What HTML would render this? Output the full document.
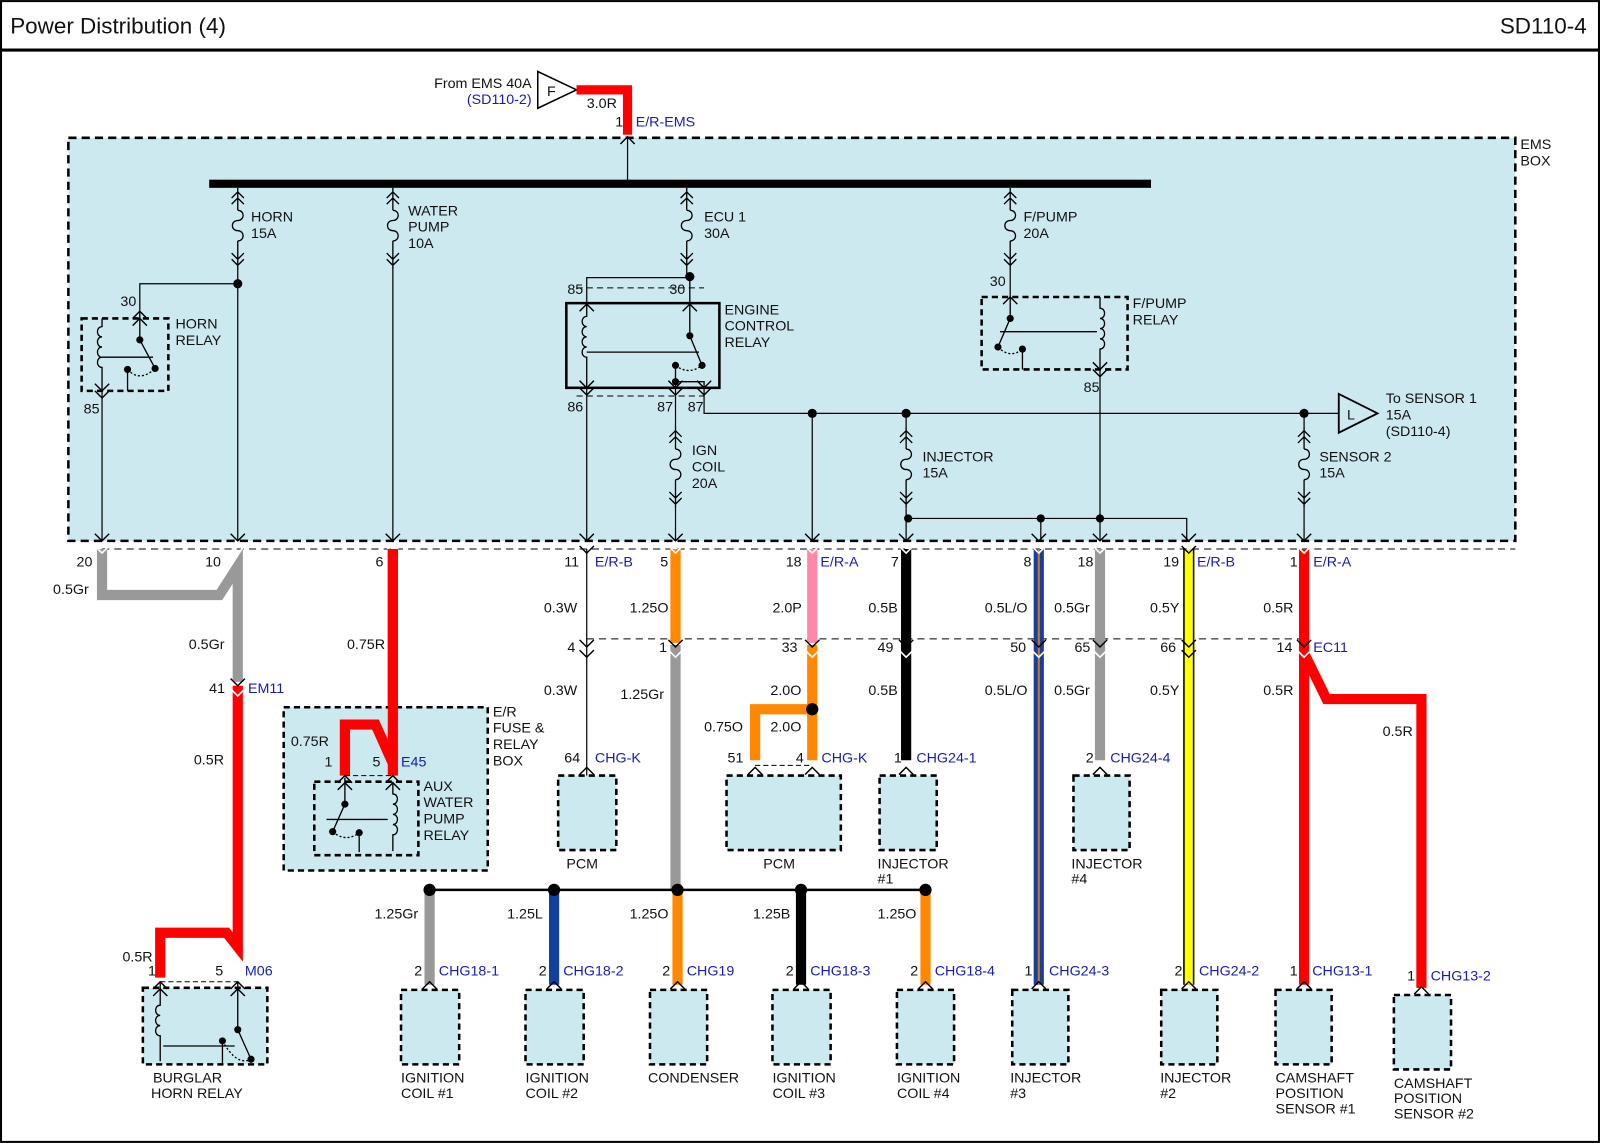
<!DOCTYPE html>
<html><head><meta charset="utf-8"><style>
html,body{margin:0;padding:0;background:#fff}
svg{display:block}
text{font-family:"Liberation Sans",Arial,sans-serif;font-size:14px;fill:#111}
.b{fill:#1a1ab8}
.t{font-size:22px}
</style></head><body>
<svg width="1600" height="1143" viewBox="0 0 1568 1120" xmlns="http://www.w3.org/2000/svg">
<defs>
<g id="fuse" fill="none" stroke="#000" stroke-width="1.3">
<path d="M0,0V22M-6,10L0,4L6,10M-6,16L0,10L6,16M0,22c7,0 7,10 0,10c-7,0 -7,10 0,10c7,0 7,10 0,10M0,52V80M-6,64L0,70L6,64M-6,70L0,76L6,70"/>
</g>
<g id="cd" fill="none" stroke="#000" stroke-width="1.4"><path d="M-7,-7L0,0L7,-7"/></g>
<g id="cu" fill="none" stroke="#000" stroke-width="1.4"><path d="M-7,7L0,0L7,7"/></g>
<g id="cdw" fill="none" stroke="#fff" stroke-width="1.6"><path d="M-7,-7L0,0L7,-7"/></g>
<g id="cuw" fill="none" stroke="#fff" stroke-width="1.6"><path d="M-7,7L0,0L7,7"/></g>
</defs>
<rect x="1" y="1" width="1566" height="1118" fill="#fff" stroke="#000" stroke-width="2"/>
<line x1="0" y1="49" x2="1568" y2="49" stroke="#000" stroke-width="3"/>
<text x="10" y="33" class="t">Power Distribution (4)</text>
<text x="1555" y="33" class="t" text-anchor="end">SD110-4</text>

<!-- EMS box -->
<rect x="67" y="135" width="1418" height="395" fill="#cde9f0" stroke="#000" stroke-width="2.5" stroke-dasharray="8,5"/>
<text x="1490" y="146">EMS</text><text x="1490" y="162">BOX</text>

<!-- From EMS -->
<path d="M527,70L565,88L527,106Z" fill="#fff" stroke="#000" stroke-width="1.5"/>
<text x="536" y="94">F</text>
<text x="521" y="86" text-anchor="end">From EMS 40A</text>
<text x="521" y="102" text-anchor="end" class="b">(SD110-2)</text>
<path d="M565,88H615V132" fill="none" stroke="#f00" stroke-width="9"/>
<text x="575" y="106">3.0R</text>
<text x="603" y="124">1</text><text x="623" y="124" class="b">E/R-EMS</text>
<use href="#cu" x="615" y="134"/>
<line x1="615" y1="134" x2="615" y2="180" stroke="#000" stroke-width="1.2"/>
<rect x="205" y="176" width="923" height="8" fill="#000"/>

<!-- fuses -->
<use href="#fuse" x="233" y="184"/><text x="246" y="217">HORN</text><text x="246" y="233">15A</text>
<use href="#fuse" x="385" y="184"/><text x="400" y="211">WATER</text><text x="400" y="227">PUMP</text><text x="400" y="243">10A</text>
<use href="#fuse" x="673" y="184"/><text x="690" y="217">ECU 1</text><text x="690" y="233">30A</text>
<use href="#fuse" x="990" y="184"/><text x="1003" y="217">F/PUMP</text><text x="1003" y="233">20A</text>
<use href="#fuse" x="662" y="418"/><text x="678" y="446">IGN</text><text x="678" y="462">COIL</text><text x="678" y="478">20A</text>
<use href="#fuse" x="888" y="418"/><text x="904" y="452">INJECTOR</text><text x="904" y="468">15A</text>
<use href="#fuse" x="1278" y="418"/><text x="1293" y="452">SENSOR 2</text><text x="1293" y="468">15A</text>

<g fill="none" stroke="#000" stroke-width="1.2">
<!-- horn -->
<path d="M233,264V530M233,278H137V304M100,383V530"/>
<path d="M385,264V530"/>
<!-- ECU -->
<path d="M673,264V272H575V297M575,380V530M662,380V418M662,498V530M690,380V405H1312M796,405V530M888,405V418M888,498V508H1163V530M888,508V530M1020,508V530M1278,405V418M1278,498V530"/>
<!-- fpump -->
<path d="M990,264V290M1078,362V530"/>
</g>
<g fill="#000">
<circle cx="233" cy="278" r="4.5"/><circle cx="676" cy="271" r="4.5"/>
<circle cx="796" cy="405" r="4.5"/><circle cx="888" cy="405" r="4.5"/><circle cx="1278" cy="405" r="4.5"/>
<circle cx="890" cy="508" r="4"/><circle cx="1020" cy="508" r="4"/><circle cx="1078" cy="508" r="4"/>
</g>
<!-- sensor1 triangle -->
<path d="M1312,386L1350,405L1312,424Z" fill="#cde9f0" stroke="#000" stroke-width="1.8"/>
<text x="1320" y="411">L</text>
<text x="1358" y="395">To SENSOR 1</text><text x="1358" y="411">15A</text><text x="1358" y="427">(SD110-4)</text>

<!-- Horn relay -->
<rect x="80" y="312" width="85" height="71" fill="none" stroke="#000" stroke-width="2.5" stroke-dasharray="6,4"/>
<g fill="none" stroke="#000" stroke-width="1.3">
<path d="M100,312V320c-6,0 -6,10 0,10c-6,0 -6,10 0,10c-6,0 -6,10 0,10c-6,0 -6,10 0,10V383"/>
<path d="M137,304V333L152,361M100,350H150M125,383V362" />
<path d="M125,362Q137,375 152,361" stroke-dasharray="2,2"/>
</g>
<use href="#cu" x="137" y="305"/><use href="#cu" x="137" y="312"/><use href="#cd" x="100" y="383"/><use href="#cd" x="100" y="390"/>
<circle cx="137" cy="333" r="3.5"/><circle cx="152" cy="361" r="3.5"/><circle cx="125" cy="362" r="3.5"/>
<text x="118" y="300">30</text><text x="82" y="405">85</text>
<text x="172" y="322">HORN</text><text x="172" y="338">RELAY</text>

<!-- Engine control relay -->
<path d="M565,282H690M565,388H690" stroke="#000" stroke-dasharray="6,4"/>
<rect x="555" y="297" width="150" height="83" fill="none" stroke="#000" stroke-width="2.5"/>
<g fill="none" stroke="#000" stroke-width="1.3">
<path d="M575,297V310c-6,0 -6,10 0,10c-6,0 -6,10 0,10c-6,0 -6,10 0,10c-6,0 -6,10 0,10V380"/>
<path d="M676,297V329L688,358M575,345H685M676,297V272"/>
<path d="M662,358V380M662,374H690V380"/>
<path d="M662,358Q675,368 688,358" stroke-dasharray="2,2"/>
</g>
<circle cx="676" cy="329" r="3.5"/><circle cx="688" cy="358" r="3.5"/><circle cx="662" cy="358" r="3.5"/><circle cx="662" cy="374" r="3.5"/>
<use href="#cu" x="575" y="298"/><use href="#cu" x="676" y="298"/>
<use href="#cd" x="575" y="380"/><use href="#cd" x="575" y="387"/><use href="#cd" x="662" y="380"/><use href="#cd" x="662" y="387"/><use href="#cd" x="690" y="380"/><use href="#cd" x="690" y="387"/>
<text x="556" y="288">85</text><text x="656" y="288">30</text>
<text x="556" y="403">86</text><text x="644" y="403">87</text><text x="674" y="403">87</text>
<text x="710" y="308">ENGINE</text><text x="710" y="324">CONTROL</text><text x="710" y="340">RELAY</text>

<!-- F/PUMP relay -->
<rect x="962" y="291" width="143" height="71" fill="none" stroke="#000" stroke-width="2.5" stroke-dasharray="6,4"/>
<g fill="none" stroke="#000" stroke-width="1.3">
<path d="M1078,291V302c6,0 6,10 0,10c6,0 6,10 0,10c6,0 6,10 0,10c6,0 6,10 0,10V362"/>
<path d="M990,290V312L978,340M980,325H1075M1002,362V342"/>
<path d="M978,340Q990,352 1002,342" stroke-dasharray="2,2"/>
</g>
<circle cx="990" cy="312" r="3.5"/><circle cx="978" cy="340" r="3.5"/><circle cx="1002" cy="342" r="3.5"/>
<use href="#cu" x="990" y="291"/><use href="#cd" x="1078" y="362"/><use href="#cd" x="1078" y="369"/>
<text x="970" y="280">30</text><text x="1062" y="384">85</text>
<text x="1110" y="302">F/PUMP</text><text x="1110" y="318">RELAY</text>

<!-- connector row lines -->
<line x1="100" y1="538" x2="1485" y2="538" stroke="#000" stroke-dasharray="7,5"/>
<line x1="575" y1="626" x2="1280" y2="626" stroke="#000" stroke-dasharray="7,5"/>

<!-- wires -->
<g fill="none" stroke-width="10" stroke-linejoin="miter">
<path d="M100,538V583H215L233,555V668" stroke="#999"/>
<path d="M233,672V928L222,914H157V958" stroke="#f00"/>
<path d="M385,538V760M385,748L368,710H338V760" stroke="#f00"/>
<path d="M662,538V630" stroke="#f80"/>
<path d="M662,632V872" stroke="#999"/>
<path d="M796,538V630" stroke="#f8a"/>
<path d="M796,632V745M796,695H740V745" stroke="#f80"/>
<path d="M888,538V745" stroke="#000"/>
<path d="M1078,538V745" stroke="#999"/>
<path d="M1278,538V965M1278,640L1300,685H1393V968" stroke="#f00"/>
<path d="M421,872V965" stroke="#999"/>
<path d="M543,872V965" stroke="#1040a0"/>
<path d="M664,872V965" stroke="#f80"/>
<path d="M785,872V965" stroke="#000"/>
<path d="M907,872V965" stroke="#f80"/>
</g>
<path d="M1018,538V965" stroke="#1a3f99" stroke-width="10"/>
<path d="M1018,538V965" stroke="#c87a30" stroke-width="2"/>
<path d="M1165,538V965" stroke="#000" stroke-width="11"/>
<path d="M1165,538V965" stroke="#ff0" stroke-width="8"/>
<path d="M575,538V760" stroke="#000" stroke-width="1.2"/>
<path d="M421,872H907" stroke="#000" stroke-width="2.5"/>
<g fill="#000"><circle cx="421" cy="872" r="6"/><circle cx="543" cy="872" r="6"/><circle cx="664" cy="872" r="6"/><circle cx="785" cy="872" r="6"/><circle cx="907" cy="872" r="6"/><circle cx="796" cy="695" r="6"/></g>

<!-- connector chevrons -->
<g>
<use href="#cd" x="100" y="530"/><use href="#cdw" x="100" y="542"/>
<use href="#cd" x="233" y="530"/><use href="#cdw" x="233" y="542"/>
<use href="#cd" x="385" y="530"/><use href="#cdw" x="385" y="542"/>
<use href="#cd" x="575" y="530"/><use href="#cd" x="575" y="542"/>
<use href="#cd" x="662" y="530"/><use href="#cdw" x="662" y="542"/>
<use href="#cd" x="796" y="530"/><use href="#cdw" x="796" y="542"/>
<use href="#cd" x="888" y="530"/><use href="#cdw" x="888" y="542"/>
<use href="#cd" x="1018" y="530"/><use href="#cdw" x="1018" y="542"/>
<use href="#cd" x="1078" y="530"/><use href="#cdw" x="1078" y="542"/>
<use href="#cd" x="1165" y="530"/><use href="#cd" x="1165" y="542"/>
<use href="#cd" x="1278" y="530"/><use href="#cdw" x="1278" y="542"/>
<use href="#cd" x="575" y="634"/><use href="#cd" x="575" y="644"/>
<use href="#cd" x="662" y="634"/><use href="#cdw" x="662" y="644"/>
<use href="#cd" x="796" y="634"/><use href="#cdw" x="796" y="644"/>
<use href="#cd" x="888" y="634"/><use href="#cdw" x="888" y="644"/>
<use href="#cd" x="1018" y="634"/><use href="#cdw" x="1018" y="644"/>
<use href="#cd" x="1078" y="634"/><use href="#cdw" x="1078" y="644"/>
<use href="#cd" x="1165" y="634"/><use href="#cd" x="1165" y="644"/>
<use href="#cd" x="1278" y="634"/><use href="#cdw" x="1278" y="644"/>
<use href="#cd" x="233" y="672"/><use href="#cdw" x="233" y="682"/>
</g>

<!-- connector labels row 1 -->
<text x="75" y="555">20</text><text x="201" y="555">10</text><text x="368" y="555">6</text>
<text x="553" y="555">11</text><text x="583" y="555" class="b">E/R-B</text>
<text x="647" y="555">5</text>
<text x="770" y="555">18</text><text x="804" y="555" class="b">E/R-A</text>
<text x="873" y="555">7</text><text x="1003" y="555">8</text><text x="1056" y="555">18</text>
<text x="1140" y="555">19</text><text x="1173" y="555" class="b">E/R-B</text>
<text x="1264" y="555">1</text><text x="1287" y="555" class="b">E/R-A</text>
<text x="52" y="582">0.5Gr</text>
<text x="533" y="600">0.3W</text><text x="617" y="600">1.25O</text><text x="757" y="600">2.0P</text>
<text x="851" y="600">0.5B</text><text x="965" y="600">0.5L/O</text><text x="1033" y="600">0.5Gr</text>
<text x="1127" y="600">0.5Y</text><text x="1238" y="600">0.5R</text>
<text x="185" y="636">0.5Gr</text><text x="340" y="636">0.75R</text>
<text x="556" y="639">4</text><text x="646" y="639">1</text><text x="766" y="639">33</text>
<text x="860" y="639">49</text><text x="990" y="639">50</text><text x="1053" y="639">65</text>
<text x="1137" y="639">66</text><text x="1251" y="639">14</text><text x="1287" y="639" class="b">EC11</text>
<text x="533" y="681">0.3W</text><text x="608" y="685">1.25Gr</text><text x="755" y="681">2.0O</text>
<text x="851" y="681">0.5B</text><text x="965" y="681">0.5L/O</text><text x="1033" y="681">0.5Gr</text>
<text x="1127" y="681">0.5Y</text><text x="1238" y="681">0.5R</text>
<text x="205" y="679">41</text><text x="243" y="679" class="b">EM11</text>
<text x="690" y="717">0.75O</text><text x="755" y="717">2.0O</text>
<text x="190" y="749">0.5R</text><text x="1355" y="721">0.5R</text>

<!-- E/R fuse & relay box -->
<rect x="278" y="693" width="200" height="160" fill="#cde9f0" stroke="#000" stroke-width="2.5" stroke-dasharray="6,4"/>
<path d="M385,538V760M385,748L368,710H338V760" stroke="#f00" stroke-width="10" fill="none"/>
<text x="483" y="702">E/R</text><text x="483" y="718">FUSE &amp;</text><text x="483" y="734">RELAY</text><text x="483" y="750">BOX</text>
<text x="285" y="731">0.75R</text><text x="318" y="751">1</text><text x="365" y="751">5</text><text x="393" y="751" class="b">E45</text>
<line x1="338" y1="760" x2="385" y2="760" stroke="#000" stroke-dasharray="5,3"/>
<rect x="308" y="766" width="102" height="72" fill="none" stroke="#000" stroke-width="2.5" stroke-dasharray="6,4"/>
<g fill="none" stroke="#000" stroke-width="1.3">
<path d="M385,766V778c6,0 6,10 0,10c6,0 6,10 0,10c6,0 6,10 0,10c6,0 6,10 0,10V834"/>
<path d="M338,762V788L326,815M320,803H380M352,835V816"/>
<path d="M326,815Q339,826 352,816" stroke-dasharray="2,2"/>
</g>
<circle cx="338" cy="788" r="3.5"/><circle cx="326" cy="815" r="3.5"/><circle cx="352" cy="816" r="3.5"/>
<use href="#cu" x="338" y="760"/><use href="#cu" x="385" y="760"/><use href="#cu" x="338" y="767"/><use href="#cu" x="385" y="767"/>
<text x="415" y="775">AUX</text><text x="415" y="791">WATER</text><text x="415" y="807">PUMP</text><text x="415" y="823">RELAY</text>

<!-- PCMs and injectors (upper) -->
<g fill="#cde9f0" stroke="#000" stroke-width="2.5" stroke-dasharray="6,4">
<rect x="547" y="760" width="57" height="73"/>
<rect x="712" y="760" width="112" height="73"/>
<rect x="862" y="760" width="56" height="73"/>
<rect x="1052" y="760" width="55" height="73"/>
</g>
<line x1="740" y1="750" x2="796" y2="750" stroke="#000" stroke-dasharray="5,3"/>
<use href="#cu" x="575" y="752"/><use href="#cu" x="740" y="752"/><use href="#cu" x="796" y="752"/><use href="#cu" x="888" y="752"/><use href="#cu" x="1078" y="752"/>
<text x="553" y="747">64</text><text x="583" y="747" class="b">CHG-K</text>
<text x="713" y="747">51</text><text x="780" y="747">4</text><text x="805" y="747" class="b">CHG-K</text>
<text x="876" y="747">1</text><text x="898" y="747" class="b">CHG24-1</text>
<text x="1064" y="747">2</text><text x="1088" y="747" class="b">CHG24-4</text>
<text x="555" y="851">PCM</text><text x="748" y="851">PCM</text>
<text x="860" y="851">INJECTOR</text><text x="860" y="866">#1</text>
<text x="1050" y="851">INJECTOR</text><text x="1050" y="866">#4</text>

<!-- lower components -->
<g fill="#cde9f0" stroke="#000" stroke-width="2.5" stroke-dasharray="6,4">
<rect x="140" y="968" width="122" height="75"/>
<rect x="393" y="970" width="57" height="73"/>
<rect x="515" y="970" width="57" height="73"/>
<rect x="637" y="970" width="56" height="73"/>
<rect x="757" y="970" width="57" height="73"/>
<rect x="879" y="970" width="56" height="73"/>
<rect x="992" y="970" width="55" height="73"/>
<rect x="1138" y="970" width="55" height="73"/>
<rect x="1250" y="970" width="55" height="73"/>
<rect x="1366" y="975" width="56" height="73"/>
</g>
<!-- burglar relay internals -->
<line x1="157" y1="962" x2="233" y2="962" stroke="#000" stroke-dasharray="5,3"/>
<g fill="none" stroke="#000" stroke-width="1.3">
<path d="M157,962V985c-6,0 -6,10 0,10c-6,0 -6,10 0,10c-6,0 -6,10 0,10V1040"/>
<path d="M233,962V1009L246,1038M160,1025H230M218,1043V1040V1020"/>
<path d="M218,1020Q232,1045 246,1038" stroke-dasharray="2,2"/>
</g>
<circle cx="233" cy="1009" r="3.5"/><circle cx="246" cy="1038" r="3.5"/><circle cx="218" cy="1020" r="3.5"/>
<use href="#cu" x="157" y="962"/><use href="#cu" x="233" y="962"/><use href="#cu" x="157" y="969"/><use href="#cu" x="233" y="969"/>
<text x="120" y="942">0.5R</text><text x="145" y="956">1</text><text x="211" y="956">5</text><text x="240" y="956" class="b">M06</text>
<text x="150" y="1061">BURGLAR</text><text x="148" y="1076">HORN RELAY</text>

<use href="#cu" x="421" y="962"/><use href="#cu" x="543" y="962"/><use href="#cu" x="664" y="962"/><use href="#cu" x="785" y="962"/><use href="#cu" x="907" y="962"/>
<use href="#cu" x="1018" y="962"/><use href="#cu" x="1165" y="962"/><use href="#cu" x="1278" y="962"/><use href="#cu" x="1393" y="967"/>
<text x="367" y="900">1.25Gr</text><text x="497" y="900">1.25L</text><text x="617" y="900">1.25O</text><text x="738" y="900">1.25B</text><text x="860" y="900">1.25O</text>
<text x="406" y="956">2</text><text x="430" y="956" class="b">CHG18-1</text>
<text x="528" y="956">2</text><text x="552" y="956" class="b">CHG18-2</text>
<text x="649" y="956">2</text><text x="673" y="956" class="b">CHG19</text>
<text x="770" y="956">2</text><text x="794" y="956" class="b">CHG18-3</text>
<text x="892" y="956">2</text><text x="916" y="956" class="b">CHG18-4</text>
<text x="1004" y="956">1</text><text x="1028" y="956" class="b">CHG24-3</text>
<text x="1151" y="956">2</text><text x="1175" y="956" class="b">CHG24-2</text>
<text x="1264" y="956">1</text><text x="1286" y="956" class="b">CHG13-1</text>
<text x="1379" y="961">1</text><text x="1402" y="961" class="b">CHG13-2</text>
<text x="393" y="1061">IGNITION</text><text x="393" y="1076">COIL #1</text>
<text x="515" y="1061">IGNITION</text><text x="515" y="1076">COIL #2</text>
<text x="635" y="1061">CONDENSER</text>
<text x="757" y="1061">IGNITION</text><text x="757" y="1076">COIL #3</text>
<text x="879" y="1061">IGNITION</text><text x="879" y="1076">COIL #4</text>
<text x="990" y="1061">INJECTOR</text><text x="990" y="1076">#3</text>
<text x="1137" y="1061">INJECTOR</text><text x="1137" y="1076">#2</text>
<text x="1250" y="1061">CAMSHAFT</text><text x="1250" y="1076">POSITION</text><text x="1250" y="1091">SENSOR #1</text>
<text x="1366" y="1066">CAMSHAFT</text><text x="1366" y="1081">POSITION</text><text x="1366" y="1096">SENSOR #2</text>
</svg>
</body></html>
